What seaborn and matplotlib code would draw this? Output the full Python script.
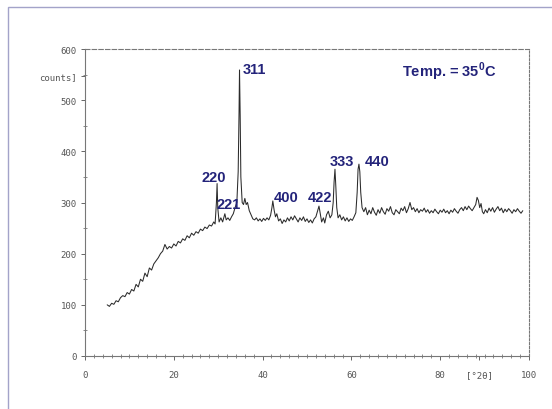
import matplotlib
matplotlib.use("Agg")
import matplotlib.pyplot as plt
import matplotlib.patches as mpatches
from matplotlib.ticker import MultipleLocator
import seaborn as sns
import pandas as pd

# Diffraction scan: 2-theta (degrees) and detector counts
two_theta = [
    5.0, 5.5, 6.0, 6.5, 7.0, 7.5, 8.0, 8.5, 9.0, 9.5, 10.0, 10.5, 11.0, 11.5,
    12.0, 12.5, 13.0, 13.5, 14.0, 14.5, 15.0, 15.5, 16.0, 16.5, 17.0, 17.5,
    18.0, 18.5, 19.0, 19.5, 20.0, 20.5, 21.0, 21.5, 22.0, 22.5, 23.0, 23.5,
    24.0, 24.5, 25.0, 25.5, 26.0, 26.5, 27.0, 27.5, 28.0, 28.5, 29.0,
    29.3, 29.6, 29.75, 29.9, 30.2, 30.6, 31.0, 31.5, 31.8, 32.2, 32.6, 33.0,
    33.4, 33.8, 34.2, 34.5, 34.7, 34.8, 34.95, 35.1, 35.4, 35.7, 36.0, 36.3,
    36.6, 37.0, 37.4, 37.8,
    38.2, 38.6, 39.0, 39.4, 39.8, 40.2, 40.6, 41.0, 41.4, 41.8, 42.1, 42.3,
    42.6, 42.9, 43.2, 43.6, 44.0, 44.4, 44.8, 45.2, 45.6, 46.0, 46.4, 46.8,
    47.2, 47.6, 48.0, 48.4, 48.8, 49.2, 49.6, 50.0, 50.4, 50.8, 51.2, 51.6,
    52.0, 52.4, 52.7, 53.0, 53.3, 53.7, 54.0, 54.4, 54.8, 55.2, 55.6, 55.9,
    56.1, 56.3, 56.5, 56.7, 57.0, 57.4, 57.8, 58.2, 58.6, 59.0, 59.4, 59.8,
    60.2, 60.6, 61.0, 61.3, 61.5, 61.7, 61.9, 62.1, 62.4, 62.8, 63.2, 63.6,
    64.0, 64.4, 64.8, 65.2, 65.6, 66.0, 66.4, 66.8, 67.2, 67.6, 68.0, 68.4,
    68.8, 69.2, 69.6, 70.0, 70.4, 70.8, 71.2, 71.6, 72.0, 72.4, 72.8, 73.2,
    73.6, 74.0, 74.4, 74.8, 75.2, 75.6, 76.0, 76.4, 76.8, 77.2, 77.6, 78.0,
    78.4, 78.8, 79.2, 79.6, 80.0, 80.4, 80.8, 81.2, 81.6, 82.0, 82.4, 82.8,
    83.2, 83.6, 84.0, 84.4, 84.8, 85.2, 85.6, 86.0, 86.4, 86.8, 87.2, 87.6,
    88.0, 88.3, 88.6, 88.9, 89.2, 89.5, 89.8, 90.2, 90.6, 91.0, 91.4, 91.8,
    92.2, 92.6, 93.0, 93.4, 93.8, 94.2, 94.6, 95.0, 95.4, 95.8, 96.2, 96.6,
    97.0, 97.4, 97.8, 98.2, 98.6,
]
counts = [
    100, 97, 103, 101, 108, 106, 114, 118, 116, 124, 121, 130, 127, 140,
    135, 150, 146, 162, 155, 172, 168, 180, 186, 192, 200, 205,
    218, 209, 214, 211, 219, 215, 224, 221, 229, 226, 235, 231,
    240, 236, 243, 240, 248, 245, 252, 249, 256, 254, 262,
    258, 300, 337, 290, 262, 270, 262, 278, 266, 270, 265, 272,
    278, 290, 300, 360, 480, 559, 470, 350, 300, 296, 308, 296,
    300, 284, 276, 268,
    266, 270, 264, 268, 263, 269, 265, 270, 266, 275, 290, 303,
    285, 272, 278, 264, 268, 259, 266, 262, 270, 264, 272, 266,
    274, 268, 262, 270, 265, 272, 263, 268, 261, 266, 260, 268,
    272, 284, 293, 278, 262, 270, 260, 276, 283, 270, 276, 300,
    340, 365, 330, 290, 270, 276, 266, 272, 264, 270, 263, 268,
    265, 272, 280, 320, 365, 375, 360, 320, 290, 282, 290, 276,
    285, 278, 290, 281, 275, 286, 279, 290, 282, 277, 288, 283,
    292, 280, 276, 286, 282, 278, 289, 284, 292, 280, 288, 300,
    286, 290, 282, 288, 280, 286, 283, 289, 281, 286, 279, 284,
    280, 287, 282, 278, 285, 281, 287, 280, 284, 278, 285, 281,
    288, 283, 279, 286, 290, 284, 292, 286, 293, 288, 284, 290,
    296, 310, 304, 290, 298, 282, 278, 286, 280, 289, 283, 290,
    281, 287, 292, 284, 289, 280, 287, 282, 288, 284, 279, 286,
    282, 288, 283, 279, 284,
]

# Reflection labels (hkl) and where they sit
peak_labels = ["220", "221", "311", "400", "422", "333", "440"]
label_x = [29.1, 32.4, 38.1, 45.3, 53.0, 57.8, 65.8]
label_y = [349, 298, 561, 310, 310, 382, 382]

x_tick_values = [0, 20, 40, 60, 80, 88.8, 100]
x_tick_labels = ["0", "20", "40", "60", "80", "[°2θ]", "100"]
y_tick_values = [0, 100, 200, 300, 400, 500, 547, 600]
y_tick_labels = ["0", "100", "200", "300", "400", "500", "counts]", "600"]

sns.set_style("white")
plt.rcParams["mathtext.fontset"] = "custom"
plt.rcParams["mathtext.bf"] = "Liberation Sans:bold"
plt.rcParams["mathtext.rm"] = "Liberation Sans"

fig = plt.figure(figsize=(5.52, 4.10), dpi=100)
fig.patch.set_facecolor("white")

# light outer frame
fig.patches.append(mpatches.Rectangle(
    (8 / 552, -0.05), 1.2, (410 - 8) / 410 + 0.05,
    transform=fig.transFigure, fill=False, edgecolor="#a3a3c9", lw=1.0))

ax = fig.add_axes([85 / 552, 1 - 357 / 410, 444 / 552, 307 / 410])

df = pd.DataFrame({"two_theta": two_theta, "counts": counts})
sns.lineplot(data=df, x="two_theta", y="counts", ax=ax,
             color="#2b2b2b", lw=0.75, estimator=None, sort=False)

ax.set_xlim(0, 100)
ax.set_ylim(0, 600)
ax.set_xlabel("")
ax.set_ylabel("")

tick_font = {"family": "DejaVu Sans Mono", "size": 6.5, "color": "#555555"}
ax.set_xticks(x_tick_values)
ax.set_xticklabels(x_tick_labels, fontdict=tick_font)
ax.set_yticks(y_tick_values)
ax.set_yticklabels(y_tick_labels, fontdict=tick_font)
ax.xaxis.set_minor_locator(MultipleLocator(2))
ax.yaxis.set_minor_locator(MultipleLocator(50))
ax.tick_params(axis="both", which="both", bottom=True, left=True,
               top=False, right=False)
ax.tick_params(axis="both", which="major", direction="out", length=3,
               width=0.7, color="#666666", pad=3)
ax.tick_params(axis="both", which="minor", direction="inout", length=3,
               width=0.6, color="#777777")
ax.tick_params(axis="x", which="major", pad=7)

for side, sp in ax.spines.items():
    sp.set_visible(True)
    sp.set_color("#777777")
    sp.set_linewidth(0.8)
    sp.set_linestyle((0, (3, 1)))
ax.spines["top"].set_linestyle((0, (4, 2)))
ax.spines["right"].set_linestyle((0, (2, 1.5)))

label_style = dict(color="#23237a", fontsize=10.5, fontweight="bold",
                   family=["Liberation Sans", "DejaVu Sans"],
                   ha="center", va="center")
for text, lx, ly in zip(peak_labels, label_x, label_y):
    ax.text(lx, ly, text, **label_style)

ax.text(82.0, 558, r"Temp. = 35$^{\mathbf{0}}$C", **label_style)

fig.savefig("out.png", dpi=100, facecolor="white")
